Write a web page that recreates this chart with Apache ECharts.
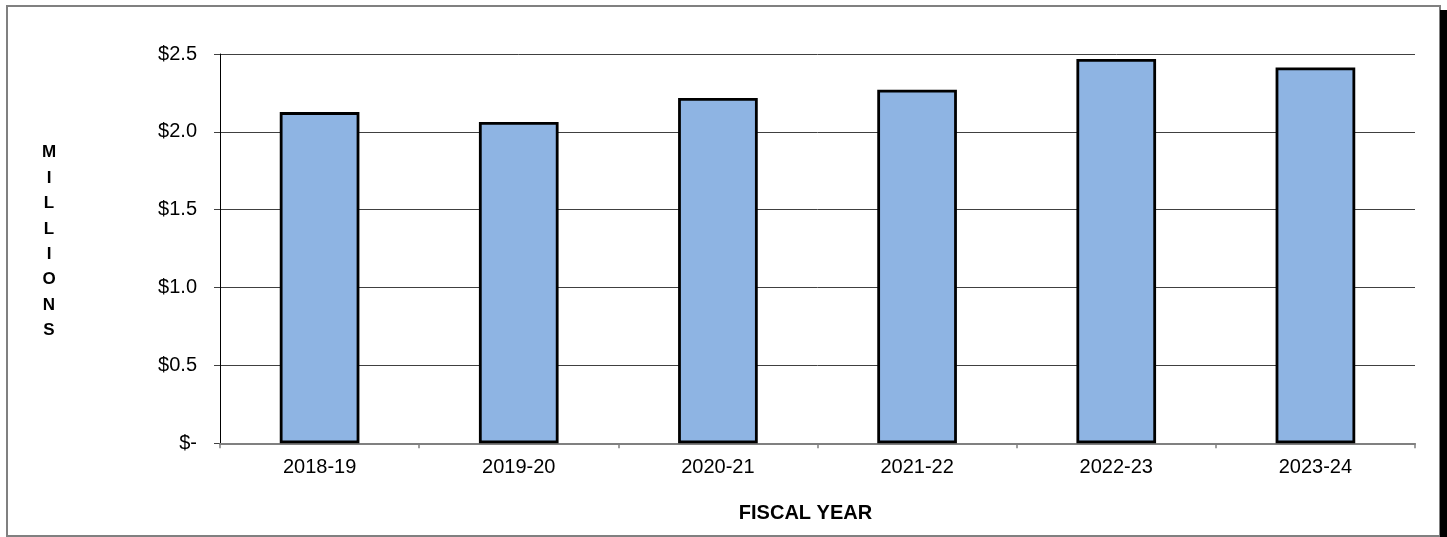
<!DOCTYPE html>
<html>
<head>
<meta charset="utf-8">
<script src="https://cdn.jsdelivr.net/npm/echarts@6/dist/echarts.min.js"></script>
<style>
html,body{margin:0;padding:0;background:#fff;}
#chart{width:1447px;height:537px;}
</style>
</head>
<body>
<div id="chart"></div>
<script>
const categories = ['2018-19', '2019-20', '2020-21', '2021-22', '2022-23', '2023-24'];
const values = [2.127, 2.063, 2.217, 2.270, 2.468, 2.414];
const yTickLabels = {0: '$-', 0.5: '$0.5', 1: '$1.0', 1.5: '$1.5', 2: '$2.0', 2.5: '$2.5'};
const yAxisTitle = 'MILLIONS';
const xAxisTitle = 'FISCAL YEAR';

const FONT = '"Liberation Sans", Arial, sans-serif';
const chart = echarts.init(document.getElementById('chart'), null, {renderer: 'canvas'});
chart.setOption({
  animation: false,
  backgroundColor: '#fff',
  grid: {left: 220, right: 32, top: 54, bottom: 93.7, containLabel: false},
  graphic: [
    {type: 'rect', shape: {x: 7, y: 6, width: 1433, height: 530}, style: {fill: 'none', stroke: '#808080', lineWidth: 2}, z: -1},
    {type: 'rect', shape: {x: 1440, y: 10, width: 7, height: 527}, style: {fill: '#000'}, z: -1},
    {type: 'text', x: 49, y: 140, style: {text: yAxisTitle.split('').join('\n'), font: 'bold 17px ' + FONT, fill: '#000', lineHeight: 25.4, align: 'center', verticalAlign: 'top'}}
  ],
  xAxis: {
    type: 'category',
    data: categories,
    boundaryGap: true,
    name: xAxisTitle,
    nameLocation: 'middle',
    nameGap: 60,
    nameTextStyle: {fontFamily: FONT, fontSize: 20, fontWeight: 'bold', color: '#000', padding: [0, 24, 0, 0]},
    axisLine: {lineStyle: {color: '#808080', width: 2}},
    axisTick: {show: true, length: 5, lineStyle: {color: '#808080', width: 1.5}},
    axisLabel: {fontFamily: FONT, fontSize: 20, color: '#000', margin: 14},
    splitLine: {show: false}
  },
  yAxis: {
    type: 'value',
    min: 0, max: 2.5, interval: 0.5,
    axisLine: {show: true, lineStyle: {color: '#000', width: 1}},
    axisTick: {show: true, length: 6, lineStyle: {color: '#404040', width: 1}},
    axisLabel: {fontFamily: FONT, fontSize: 20, color: '#000', margin: 23,
      formatter: v => yTickLabels[Math.round(v * 10) / 10] ?? ''},
    splitLine: {show: true, lineStyle: {color: '#404040', width: 1}}
  },
  series: [{
    type: 'bar',
    data: values,
    barCategoryGap: '60%',
    itemStyle: {color: '#8EB4E3', borderColor: '#000', borderWidth: 2.8},
    z: 3
  }]
});
</script>
</body>
</html>
